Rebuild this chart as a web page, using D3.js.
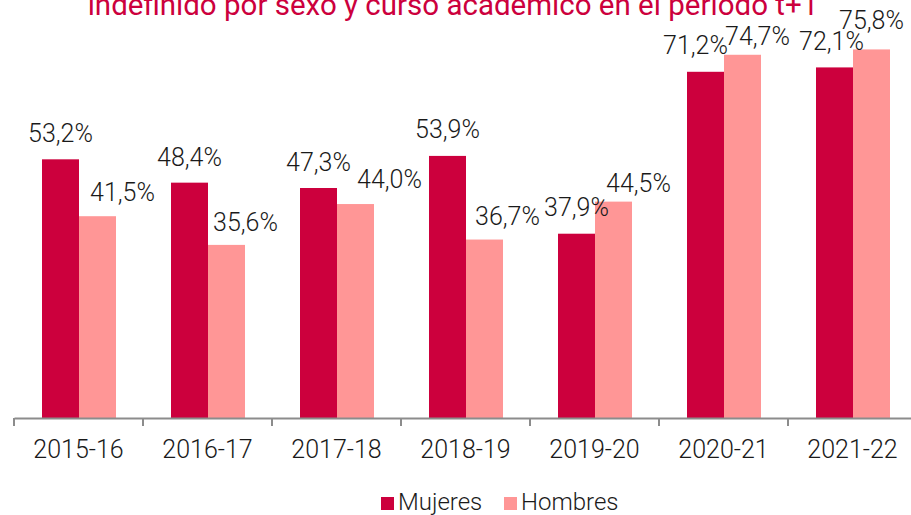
<!DOCTYPE html>
<html>
<head>
<meta charset="utf-8">
<script src="https://cdn.jsdelivr.net/npm/d3@7"></script>
<style>
  body { margin: 0; background: #fff; }
  text { font-family: Roboto, "DejaVu Sans", sans-serif; }
</style>
</head>
<body>
<div id="chart"></div>
<script>
// chart data
var cursos = ['2015-16', '2016-17', '2017-18', '2018-19', '2019-20', '2020-21', '2021-22'];
var series = ['Mujeres', 'Hombres'];
var mujeres = [53.2, 48.4, 47.3, 53.9, 37.9, 71.2, 72.1];
var hombres = [41.5, 35.6, 44.0, 36.7, 44.5, 74.7, 75.8];
var titleLine = 'indefinido por sexo y curso académico en el período t+1';

// hand placed label nudges (dx, gap above bar), like the original
var nudgeMujeres = [[0, 17], [0, 17], [0, 17], [0, 18], [0, 18], [-10, 18], [-3, 17]];
var nudgeHombres = [[25, 15], [19, 14], [34, 16], [23, 15], [25, 10], [15, 10], [0, 20]];

var colors = { 'Mujeres': '#cc003d', 'Hombres': '#ff9696' };

var width = 911, height = 515;
var baseY = 418;

var svg = d3.select('#chart').append('svg')
  .attr('width', width)
  .attr('height', height);

// title (second line only, first one is out of frame)
svg.append('text')
  .attr('x', 453)
  .attr('y', 15)
  .attr('text-anchor', 'middle')
  .attr('fill', '#cc003d')
  .style('font-size', '29.5px')
  .text(titleLine);

var x0 = d3.scaleBand()
  .domain(cursos)
  .range([14, 917]);

var x1 = d3.scaleBand()
  .domain(series)
  .range([28, 102]);

var y = d3.scaleLinear()
  .domain([0, 80])
  .range([baseY, 29]);

var rows = cursos.map(function(c, i) {
  return { curso: c, values: [
    { key: 'Mujeres', value: mujeres[i], nudge: nudgeMujeres[i] },
    { key: 'Hombres', value: hombres[i], nudge: nudgeHombres[i] }
  ]};
});

var groups = svg.selectAll('.grp')
  .data(rows)
  .enter()
  .append('g')
  .attr('class', 'grp')
  .attr('transform', function(d) { return 'translate(' + x0(d.curso) + ',0)'; });

groups.selectAll('rect')
  .data(function(d) { return d.values; })
  .enter()
  .append('rect')
  .attr('x', function(d) { return x1(d.key); })
  .attr('y', function(d) { return y(d.value); })
  .attr('width', x1.bandwidth())
  .attr('height', function(d) { return baseY - y(d.value); })
  .attr('fill', function(d) { return colors[d.key]; });

groups.selectAll('.val')
  .data(function(d) { return d.values; })
  .enter()
  .append('text')
  .attr('class', 'val')
  .attr('x', function(d) { return x1(d.key) + x1.bandwidth() / 2 + d.nudge[0]; })
  .attr('y', function(d) { return y(d.value) - d.nudge[1]; })
  .attr('text-anchor', 'middle')
  .attr('fill', '#1a1a1a')
  .style('font-size', '25px')
  .style('font-weight', 300)
  .text(function(d) { return d.value.toFixed(1).replace('.', ',') + '%'; });

// x axis
var xAxis = d3.axisBottom(x0)
  .tickSize(0)
  .tickPadding(22);

var axisG = svg.append('g')
  .attr('transform', 'translate(0,' + baseY + ')')
  .call(xAxis);

axisG.select('.domain')
  .attr('stroke', '#8c8c8c')
  .attr('stroke-width', 2);

axisG.selectAll('text')
  .attr('fill', '#1a1a1a')
  .style('font-size', '25px')
  .style('font-weight', 300)
  .style('font-family', 'Roboto, sans-serif');

// ticks sit between categories
var bounds = cursos.map(function(c) { return x0(c); }).concat([x0.range()[1]]);
axisG.selectAll('.sep')
  .data(bounds)
  .enter()
  .append('line')
  .attr('class', 'sep')
  .attr('x1', function(d) { return d; })
  .attr('x2', function(d) { return d; })
  .attr('y1', 0)
  .attr('y2', 8)
  .attr('stroke', '#8c8c8c')
  .attr('stroke-width', 2);

// legend
var legendX = { 'Mujeres': 381, 'Hombres': 504 };
var legend = svg.selectAll('.legend')
  .data(series)
  .enter()
  .append('g')
  .attr('class', 'legend')
  .attr('transform', function(d) { return 'translate(' + legendX[d] + ',497)'; });

legend.append('rect')
  .attr('width', 13)
  .attr('height', 13)
  .attr('fill', function(d) { return colors[d]; });

legend.append('text')
  .attr('x', 17)
  .attr('y', 13)
  .attr('fill', '#1a1a1a')
  .style('font-size', '24px')
  .style('font-weight', 300)
  .text(function(d) { return d; });
</script>
</body>
</html>
